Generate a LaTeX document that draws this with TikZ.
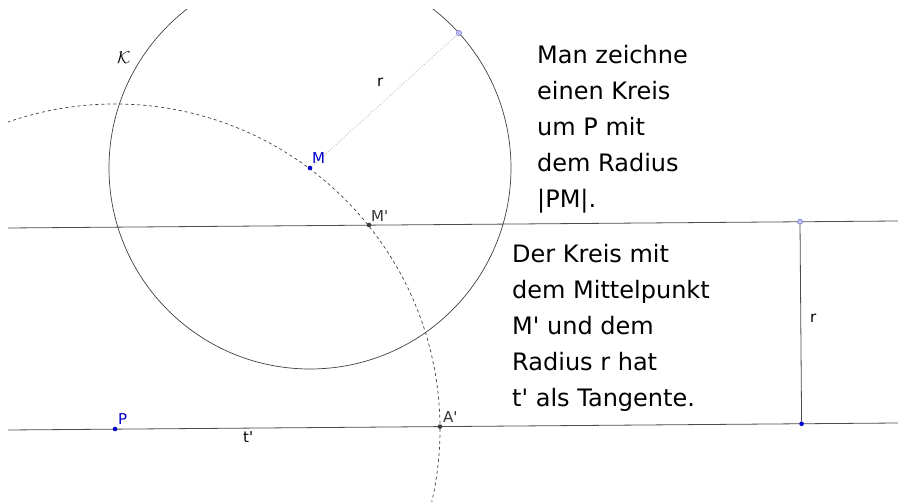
\documentclass[tikz,border=0pt]{standalone}
\usepackage{fontspec}
\setmainfont{DejaVu Sans}
\definecolor{ptblue}{RGB}{0,0,200}
\definecolor{ptlight}{RGB}{110,110,220}
\definecolor{ptgray}{RGB}{60,60,60}
\newcommand{\aps}{\textquotesingle}
\begin{document}
\begin{tikzpicture}[x=1pt, y=-1pt,
  pt/.style={circle,fill=ptblue,inner sep=0pt,minimum size=4.6pt},
  dpt/.style={pt,fill=ptgray},
  lpt/.style={pt,fill=ptlight!40,draw=ptlight,line width=0.6pt,minimum size=5pt},
  lbl/.style={font=\fontsize{15}{17}\selectfont,anchor=base west,inner sep=0pt,text=black!80},
  txt/.style={font=\fontsize{24}{36}\selectfont,align=left,anchor=north west,inner sep=0pt},
  gline/.style={black!70,line width=0.8pt}]
\useasboundingbox (0,0) rectangle (898,502);
\coordinate (a1) at (8,228);
\coordinate (a2) at (898,221);
\coordinate (t1) at (8,430);
\coordinate (t2) at (898,423);
\coordinate (Mc) at (310,168);
\coordinate (Pc) at (115,429);
\begin{scope}
\clip (8,10) rectangle (898,502);
\draw[black!75,line width=0.7pt] (Mc) circle (201);
\draw[black!75,dashed,line width=0.7pt] (Pc) circle (325);
\draw[gline] (a1) -- (a2);
\draw[gline] (t1) -- (t2);
\end{scope}
% points
\node[pt] (M) at (Mc) {};
\node[lpt] (Q) at (459,33) {};
\node[dpt] (Ms) at (369,225) {};
\node[pt] (P) at (Pc) {};
\node[dpt] (As) at (440,426.6) {};
\node[lpt] (R1) at (800,221.8) {};
\node[pt] (R2) at (801.6,423.8) {};
\draw[dotted,black!45,line width=0.7pt] (M) -- (Q);
\draw[gline] (R1) -- (R2);
% labels
\node[lbl,text=black] (kl) at (117,64) {\fontsize{17}{18}\selectfont$\mathcal{K}$};
\node[lbl,text=ptblue] (Ml) at (312,164) {M};
\node[lbl] (Msl) at (371,222) {M\aps};
\node[lbl,text=ptblue] (Pl) at (118,425) {P};
\node[lbl] (Asl) at (443,423) {A\aps};
\node[lbl,text=black] (tl) at (243,443) {t\aps};
\node[lbl,text=black] (r1) at (377,87) {r};
\node[lbl,text=black] (r2) at (810,323) {r};
% texts
\node[txt] (text1) at (537,44.8) {Man zeichne\\einen Kreis\\um P mit\\dem Radius\\|PM|.};
\node[txt] (text2) at (512,243.8) {Der Kreis mit\\dem Mittelpunkt\\M\aps{} und dem\\Radius r hat\\t\aps{} als Tangente.};
\end{tikzpicture}
\end{document}
